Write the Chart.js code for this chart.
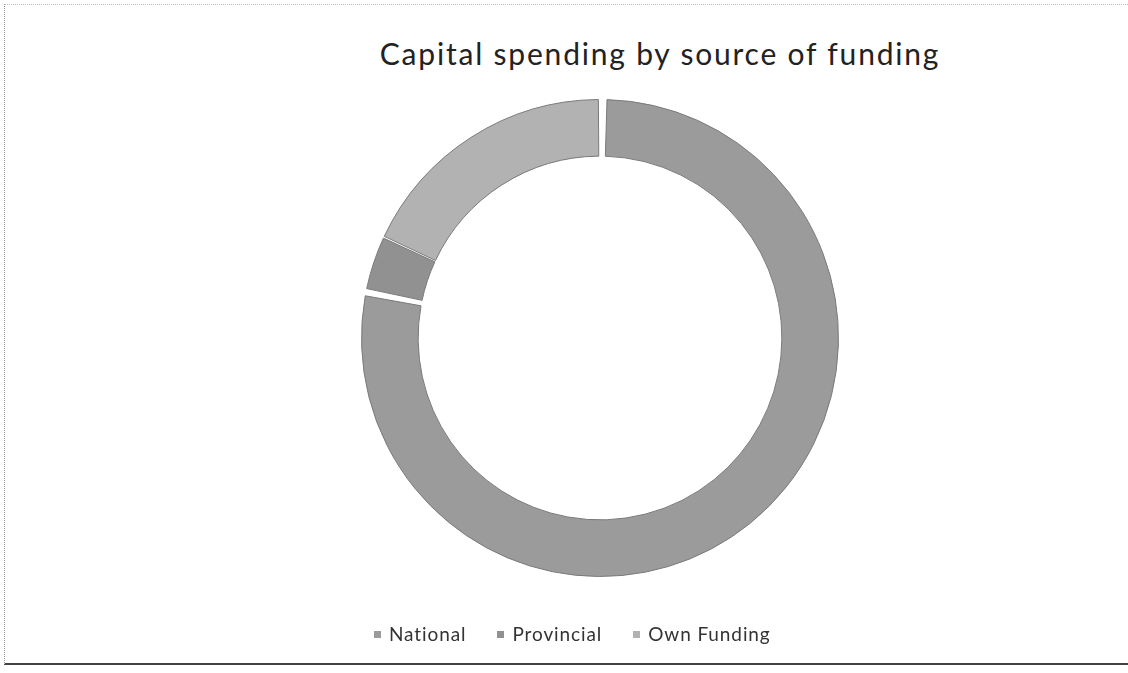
<!DOCTYPE html>
<html>
<head>
<meta charset="utf-8">
<script src="https://cdn.jsdelivr.net/npm/chart.js@4"></script>
<style>
  html, body { margin: 0; padding: 0; background: #fff; }
  #wrap { position: relative; width: 1128px; height: 673px; overflow: hidden; }
  #frame {
    position: absolute; left: 4px; top: 4px; width: 1124px; height: 661px;
    border-top: 1px dotted #bbb; border-left: 1px dotted #999; border-bottom: 2px solid #444;
    box-sizing: border-box;
  }
  #title {
    position: absolute; left: 360px; top: 35px; width: 600px; text-align: center;
    font: 30px Lato, "Open Sans", sans-serif; letter-spacing: 1.8px; color: #222; white-space: nowrap;
  }
  #legend {
    position: absolute; left: 374px; top: 622px; display: flex; gap: 31px;
    font: 19px Lato, "Open Sans", sans-serif; letter-spacing: 0.9px; color: #333; white-space: nowrap;
  }
  #legend span.box { display: inline-block; width: 7px; height: 7px; margin-right: 8px; vertical-align: 3px; }
  canvas { position: absolute; left: 0; top: 0; }
</style>
</head>
<body>
<div id="wrap">
  <div id="frame"></div>
  <div id="title">Capital spending by source of funding</div>
  <canvas id="donut" width="1128" height="673"></canvas>
  <div id="legend"></div>
</div>
<script>
// ── Data ─────────────────────────────────────────────────────────────────
const CATEGORIES = ["National", "Provincial", "Own Funding"];
const SHARES     = [78.3, 3.6, 18.1];
const COLORS     = ["#9b9b9b", "#919191", "#b2b2b2"];

const ctx = document.getElementById("donut");
const chart = new Chart(ctx, {
  type: "doughnut",
  data: {
    labels: CATEGORIES,
    datasets: [{
      data: SHARES,
      backgroundColor: COLORS,
      borderColor: "#7a7a7a",
      borderWidth: 1,
      spacing: 5,
    }],
  },
  options: {
    responsive: false,
    animation: false,
    cutout: "76%",
    layout: { padding: { top: 99, bottom: 96, left: 72, right: 0 } },
    plugins: {
      legend: { display: false },
      title: { display: false },
      tooltip: { enabled: false },
    },
  },
});

// legend built from the chart's own labels and colours
const legend = document.getElementById("legend");
chart.data.labels.forEach((lab, i) => {
  const item = document.createElement("div");
  const box = document.createElement("span");
  box.className = "box";
  box.style.background = chart.data.datasets[0].backgroundColor[i];
  item.appendChild(box);
  item.appendChild(document.createTextNode(lab));
  legend.appendChild(item);
});
</script>
</body>
</html>
